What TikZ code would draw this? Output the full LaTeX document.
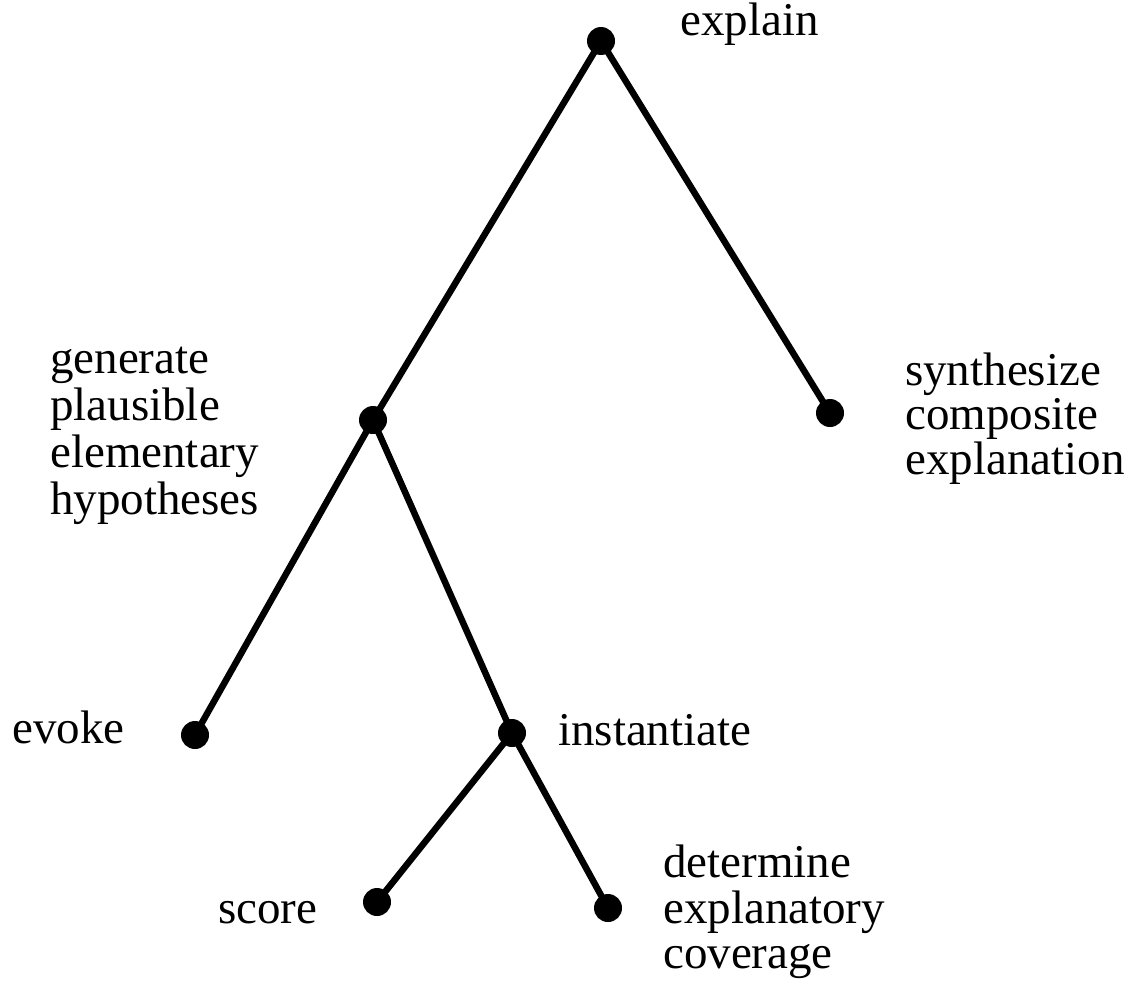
\documentclass[tikz,border=0pt]{standalone}
\usepackage{fontspec}
\setmainfont{Liberation Serif}
\begin{document}
\begin{tikzpicture}[x=1pt,y=-1pt,
  dot/.style={circle,fill=black,inner sep=0pt,minimum size=28pt},
  edge/.style={line width=6.5pt,black},
  lbl/.style={anchor=base west,inner sep=0pt,font=\fontsize{47}{45}\selectfont},
  lblg/.style={anchor=base west,inner sep=0pt,font=\fontsize{47}{47}\selectfont},
  lblb/.style={anchor=base west,inner sep=0pt,font=\fontsize{47}{43.5}\selectfont}]
\useasboundingbox (0,0) rectangle (1139,990);
\fill[white] (0,0) rectangle (1139,990);
% dots
\node[dot] (explain) at (601,41) {};
\node[dot] (generate) at (373,420) {};
\node[dot] (synth) at (830,413) {};
\node[dot] (evoke) at (195,735) {};
\node[dot] (inst) at (512,733) {};
\node[dot] (score) at (377,902) {};
\node[dot] (determine) at (608,908) {};
% edges
\draw[edge] (explain.center) -- (generate.center);
\draw[edge] (explain.center) -- (synth.center);
\draw[edge] (generate.center) -- (evoke.center);
\draw[edge] (generate.center) -- (inst.center);
\draw[edge] (inst.center) -- (score.center);
\draw[edge] (inst.center) -- (determine.center);
% labels
\node[lbl] (l-explain) at (680,36) {explain};
\node[lblg] (l-generate) at (50,373) {\begin{tabular}[t]{@{}l@{}}generate\\plausible\\elementary\\hypotheses\end{tabular}};
\node[lblb] (l-synth) at (905,385) {\begin{tabular}[t]{@{}l@{}}synthesize\\composite\\explanation\end{tabular}};
\node[lbl] (l-evoke) at (12,743) {evoke};
\node[lbl] (l-inst) at (558,745) {instantiate};
\node[lbl] (l-score) at (218,923) {score};
\node[lbl] (l-determine) at (663,877) {\begin{tabular}[t]{@{}l@{}}determine\\explanatory\\coverage\end{tabular}};
\end{tikzpicture}
\end{document}
